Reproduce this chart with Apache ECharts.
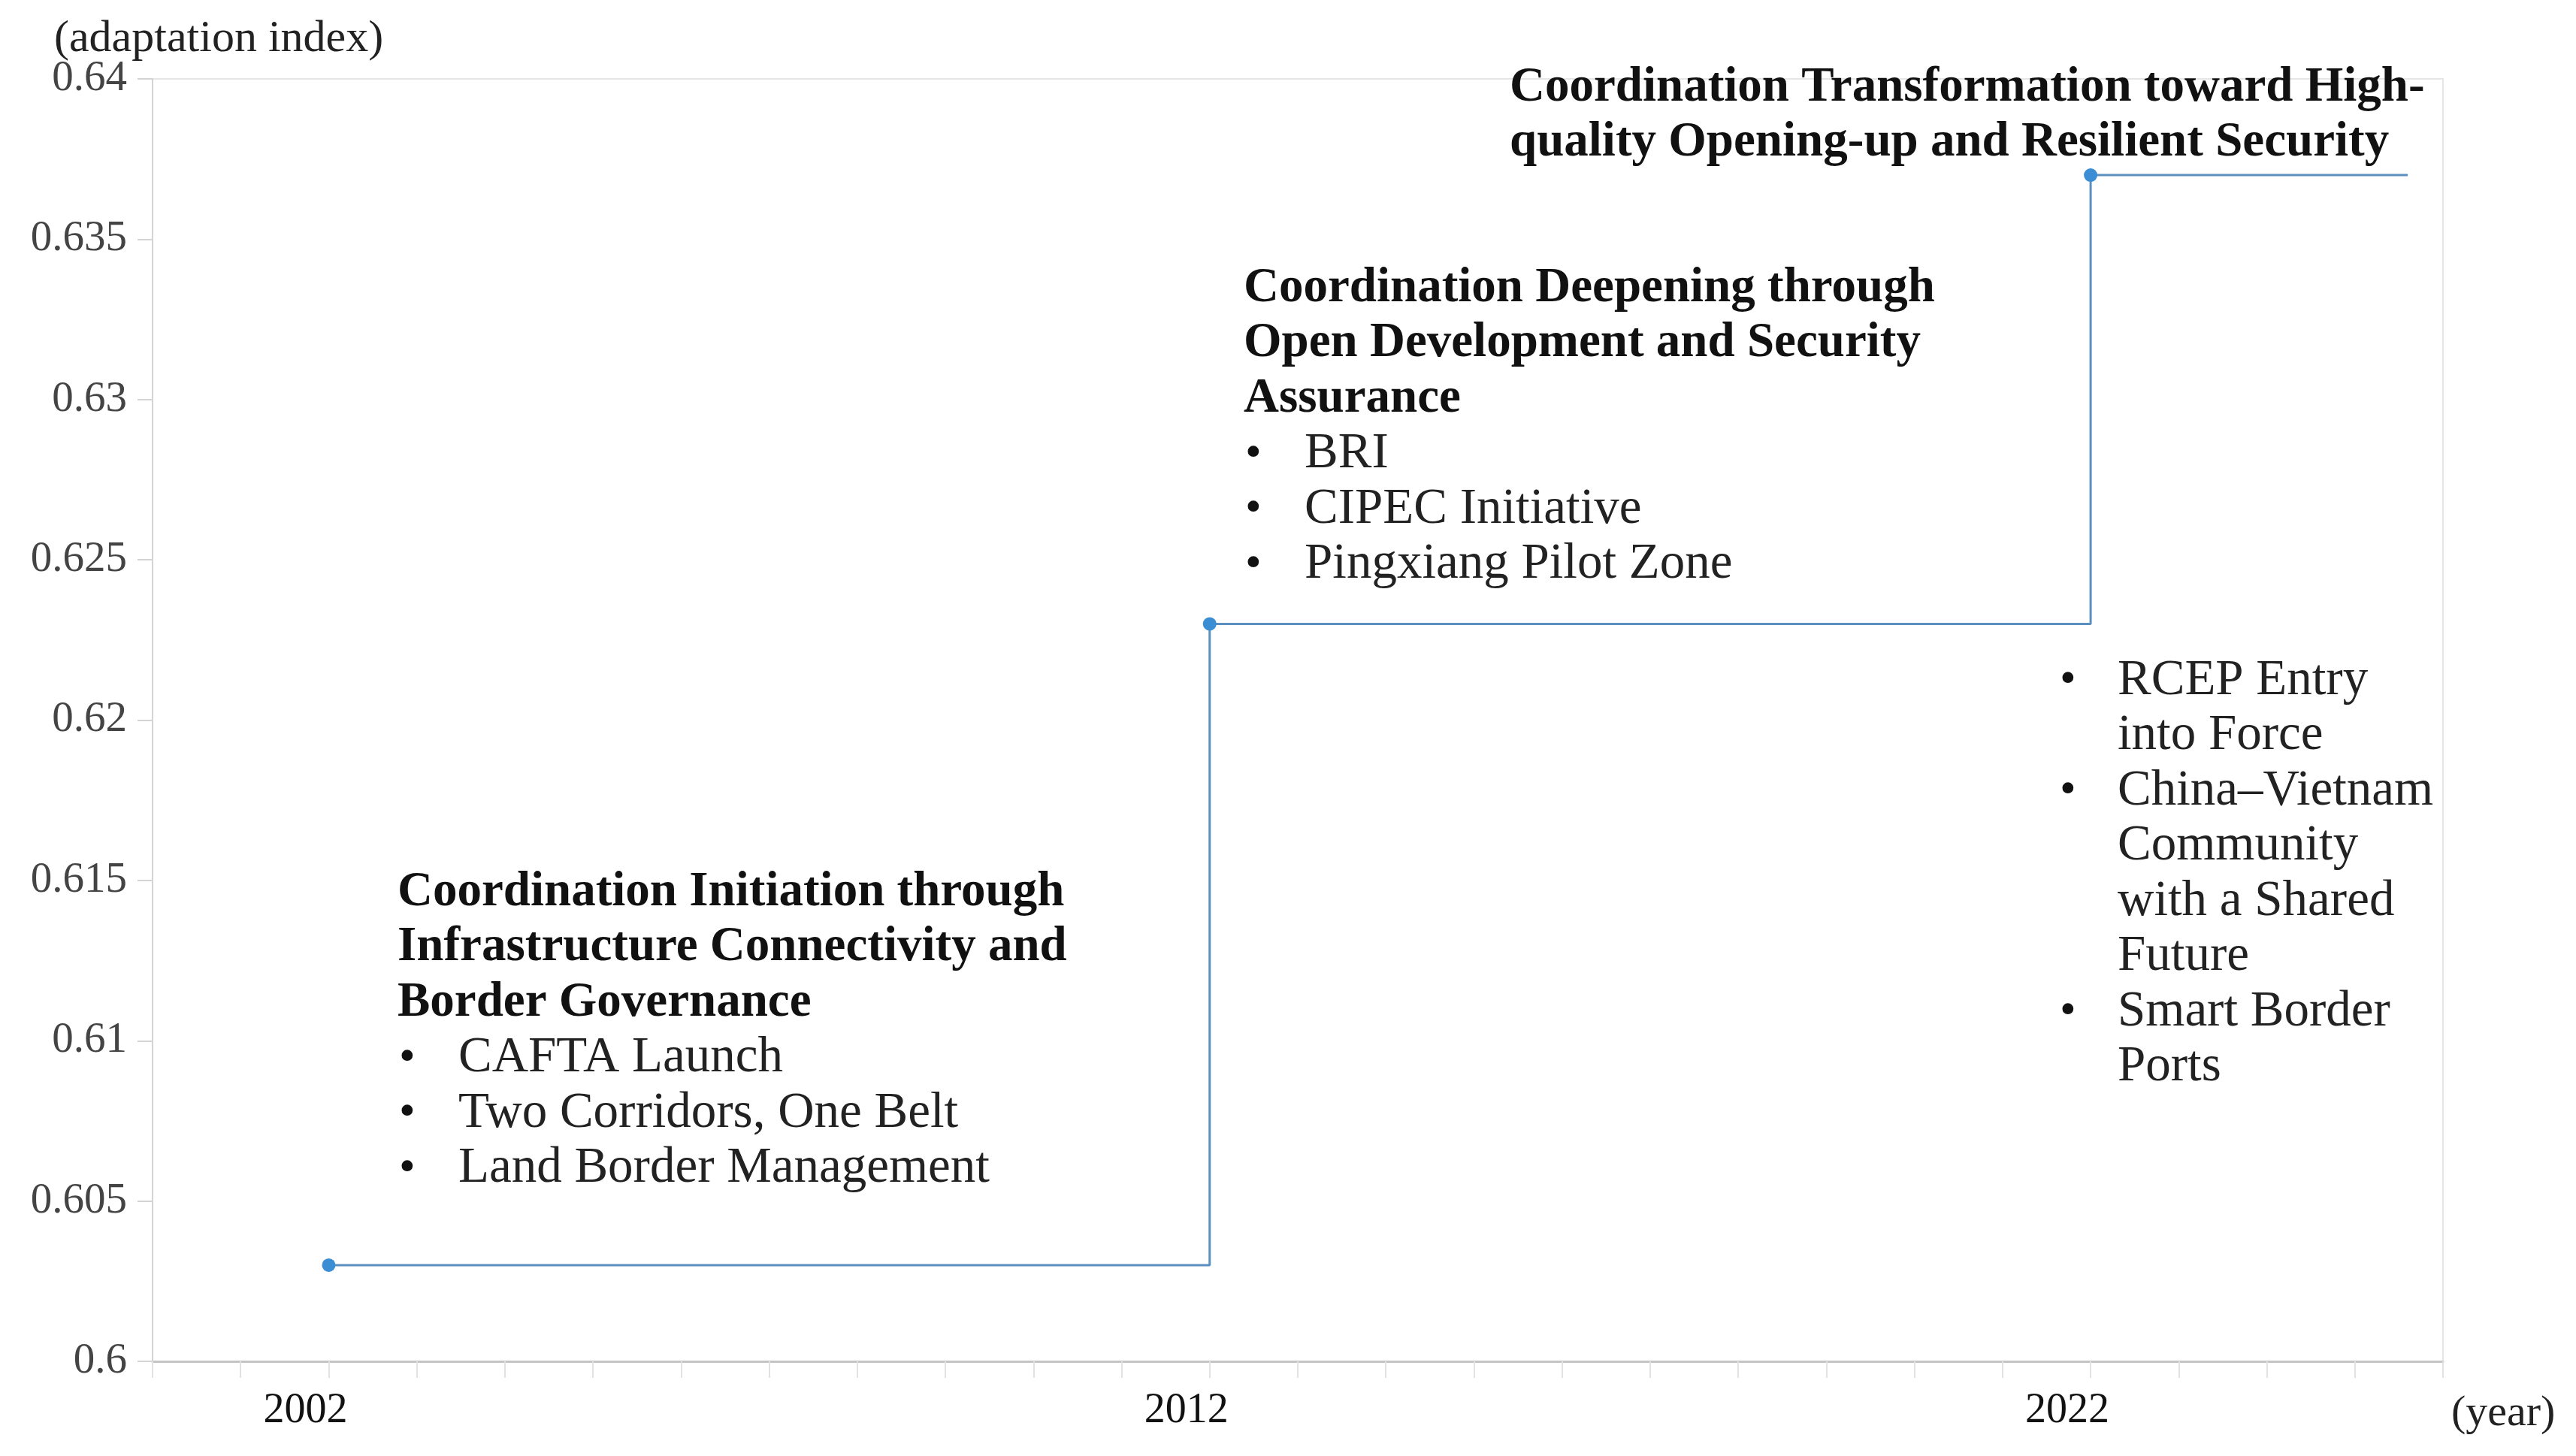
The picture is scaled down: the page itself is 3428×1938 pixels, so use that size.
<!DOCTYPE html>
<html lang="en">
<head>
    <meta charset="UTF-8">
    <title>Adaptation index</title>
    <script src="https://cdn.jsdelivr.net/npm/echarts@6/dist/echarts.min.js"></script>
    <style>
        html, body, #main {
            width: 100%;
            height: 100%;
            margin: 0;
            padding: 0;
            background: #fff;
        }
        body {
            overflow: hidden;
        }
    </style>
</head>
<body>
    <div id="main"></div>
    <script>
        // step line data: year and adaptation index
        const years = [2002, 2012, 2022, 2025.6];
        const values = [0.603, 0.623, 0.637, 0.637];
        const yearLabels = [2002, 2012, 2022];

        // annotation texts
        const stage1Title = ['Coordination Initiation through', 'Infrastructure Connectivity and', 'Border Governance'];
        const stage1Items = ['CAFTA Launch', 'Two Corridors, One Belt', 'Land Border Management'];
        const stage2Title = ['Coordination Deepening through', 'Open Development and Security', 'Assurance'];
        const stage2Items = ['BRI', 'CIPEC Initiative', 'Pingxiang Pilot Zone'];
        const stage3Title = ['Coordination Transformation toward High-', 'quality Opening-up and Resilient Security'];
        const stage3Items = [['RCEP Entry', 'into Force'], ['China\u2013Vietnam', 'Community', 'with a Shared', 'Future'], ['Smart Border', 'Ports']];

        const FONT = '"Liberation Serif", "DejaVu Serif", serif';
        const LINE = 73.5;

        var chart = echarts.init(document.getElementById('main'));

        // one text line, vertically centred on y
        function txt(x, y, s, font, fill) {
            return { type: 'text', x: x, y: y, style: { text: s, font: font, fill: fill, verticalAlign: 'middle' } };
        }

        // build graphic text for one annotation block
        function block(x, y, title, items, bulletX, textX) {
            const els = [];
            let cy = y;
            title.forEach(function (t) {
                els.push(txt(x, cy, t, 'bold 65px ' + FONT, '#111'));
                cy += LINE;
            });
            items.forEach(function (it) {
                const lines = Array.isArray(it) ? it : [it];
                els.push(txt(bulletX, cy, '\u2022', '62px ' + FONT, '#111'));
                lines.forEach(function (l) {
                    els.push(txt(textX, cy, l, '67px ' + FONT, '#222'));
                    cy += LINE;
                });
            });
            return els;
        }

        const graphics = [].concat(
            block(529, 1188, stage1Title, stage1Items, 531, 610),
            block(1655, 384, stage2Title, stage2Items, 1657, 1736),
            block(2009, 117, stage3Title, [], 0, 0),
            block(2740, 906, [], stage3Items, 2741, 2818),
            [
                txt(72, 52, '(adaptation index)', '60px ' + FONT, '#222'),
                txt(3262, 1882, '(year)', '58px ' + FONT, '#222')
            ]
        );

        var option = {
            animation: false,
            grid: {
                left: 203,
                right: 177,
                top: 105,
                bottom: 126,
                show: true,
                borderColor: '#e6e6e6',
                borderWidth: 2
            },
            xAxis: {
                type: 'value',
                min: 2000,
                max: 2026,
                interval: 1,
                splitLine: { show: false },
                axisLine: { lineStyle: { color: '#c4c4c4', width: 3 } },
                axisTick: { length: 22, inside: false, lineStyle: { color: '#e2e2e2', width: 2 } },
                axisLabel: {
                    margin: 38,
                    color: '#111',
                    fontFamily: FONT,
                    fontSize: 56,
                    padding: [0, 62, 0, 0],
                    formatter: function (v) {
                        return yearLabels.indexOf(v) >= 0 ? String(v) : '';
                    }
                }
            },
            yAxis: {
                type: 'value',
                min: 0.6,
                max: 0.64,
                interval: 0.005,
                splitLine: { show: false },
                axisLine: { show: true, lineStyle: { color: '#d4d4d4', width: 2 } },
                axisTick: { show: true, length: 20, lineStyle: { color: '#d4d4d4', width: 2 } },
                axisLabel: {
                    margin: 34,
                    color: '#444',
                    fontFamily: FONT,
                    fontSize: 57,
                    formatter: function (v) {
                        return String(+v.toFixed(3));
                    }
                }
            },
            series: [
                {
                    type: 'line',
                    step: 'end',
                    data: years.map(function (y, i) {
                        const d = { value: [y, values[i]] };
                        if (i === years.length - 1) d.symbol = 'none';
                        return d;
                    }),
                    symbol: 'circle',
                    symbolSize: 18,
                    itemStyle: { color: '#3b8ed4' },
                    lineStyle: { color: '#5b8fbf', width: 3 }
                }
            ],
            graphic: graphics
        };

        chart.setOption(option);
        window.addEventListener('resize', function () {
            chart.resize();
        });
    </script>
</body>
</html>
